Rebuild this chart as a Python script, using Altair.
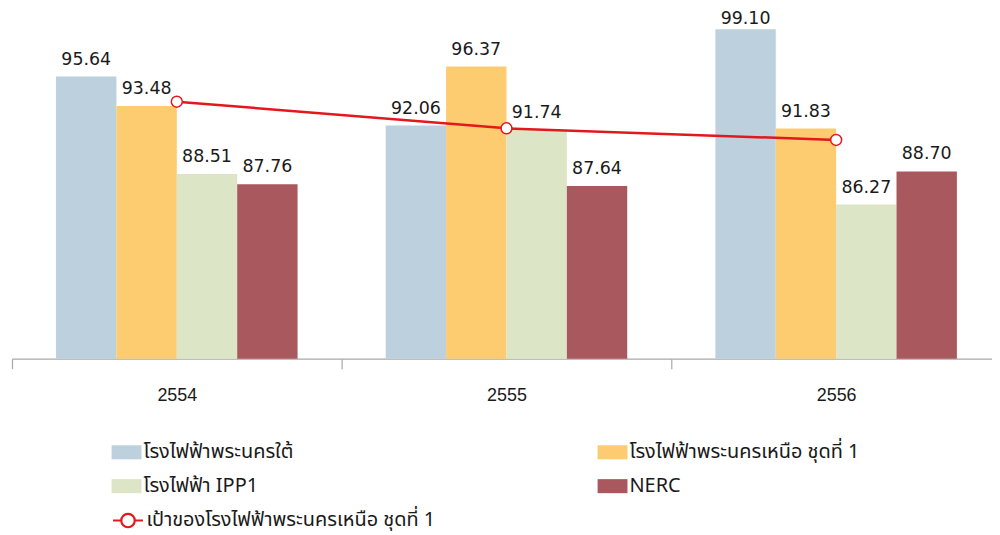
import altair as alt
import pandas as pd

years = ["2554", "2555", "2556"]
series = ["โรงไฟฟ้าพระนครใต้", "โรงไฟฟ้าพระนครเหนือ ชุดที่ 1", "โรงไฟฟ้า IPP1", "NERC"]
values = {
    "โรงไฟฟ้าพระนครใต้": [95.64, 92.06, 99.10],
    "โรงไฟฟ้าพระนครเหนือ ชุดที่ 1": [93.48, 96.37, 91.83],
    "โรงไฟฟ้า IPP1": [88.51, 91.74, 86.27],
    "NERC": [87.76, 87.64, 88.70],
}
target_name = "เป้าของโรงไฟฟ้าพระนครเหนือ ชุดที่ 1"
target = [93.8, 91.85, 91.0]
colors = ["#bcd1dd", "#fdcb70", "#dde5c7", "#a9595d"]

rows = []
for s in series:
    for y, v in zip(years, values[s]):
        rows.append({"year": y, "series": s, "value": v})
bars_df = pd.DataFrame(rows)
line_df = pd.DataFrame({"year": years, "target": target, "name": [target_name] * 3})

FONT = "Liberation Sans, Arial, sans-serif"
NUMFONT = "DejaVu Sans, Verdana, sans-serif"
THAI = "Tahoma, Noto Sans Thai, Loma, Garuda, Noto Sans, sans-serif"

x_enc = alt.X("year:N", title=None, sort=years,
              scale=alt.Scale(paddingInner=0, paddingOuter=0, range=[0, 993]),
              axis=alt.Axis(labelAngle=0, tickBand="extent", tickSize=10, labelPadding=18,
                            labelFontSize=18, labelFont=FONT, labelColor="#1a1a1a",
                            domainColor="#a8a8a8", tickColor="#a8a8a8", tickWidth=1.2,
                            domainWidth=1.2, grid=False))
y_scale = alt.Scale(domain=[75, 100.5], zero=False, nice=False)
xoff = alt.XOffset("series:N", sort=series, scale=alt.Scale(paddingInner=0, paddingOuter=0.73))

rect_path = "M-1,-0.47H1V0.47H-1Z"
line_path = "M-1,0H-0.45M0.45,0H1M-0.45,0A0.45,0.45 0 1,1 0.45,0A0.45,0.45 0 1,1 -0.45,0"

bars = alt.Chart(bars_df).mark_bar().encode(
    x=x_enc,
    xOffset=xoff,
    y=alt.Y("value:Q", scale=y_scale, axis=None),
    y2=alt.datum(75),
    fill=alt.Fill("series:N", sort=series,
                  scale=alt.Scale(domain=series, range=colors),
                  legend=alt.Legend(title=None, orient="none", legendX=100, legendY=429,
                                    direction="horizontal", columns=2, columnPadding=305,
                                    rowPadding=9, labelLimit=500,
                                    symbolType=rect_path, symbolSize=900,
                                    symbolStrokeWidth=0, labelFont=THAI,
                                    labelFontSize=20, labelColor="#1a1a1a",
                                    labelOffset=2, padding=0)),
)

labels = alt.Chart(bars_df).transform_calculate(
    ly="min(datum.value, 98.6)"
).mark_text(baseline="alphabetic", dy=-12, fontSize=17.5, font=NUMFONT, color="#1a1a1a").encode(
    x=alt.X("year:N", sort=years, title=None),
    xOffset=xoff,
    y=alt.Y("ly:Q", scale=y_scale),
    text=alt.Text("value:Q", format=".2f"),
)

line = alt.Chart(line_df).mark_line(strokeWidth=2.5).encode(
    x=alt.X("year:N", sort=years, title=None),
    y=alt.Y("target:Q", scale=y_scale),
    stroke=alt.Stroke("name:N", scale=alt.Scale(domain=[target_name], range=["#e3171c"]),
                      legend=alt.Legend(title=None, orient="none", legendX=100, legendY=496,
                                        labelLimit=500,
                                        symbolType=line_path, symbolSize=900,
                                        symbolStrokeWidth=2.2, symbolFillColor="white",
                                        labelFont=THAI, labelFontSize=20,
                                        labelColor="#1a1a1a", labelOffset=2, padding=0)),
)

pts = alt.Chart(line_df).mark_point(filled=True, fill="white", stroke="#e3171c",
                                    strokeWidth=1.5, size=121, opacity=1,
                                    shape="circle").encode(
    x=alt.X("year:N", sort=years, title=None),
    y=alt.Y("target:Q", scale=y_scale),
)

chart = alt.layer(bars, labels, line, pts).properties(
    width=984, height=350,
    padding={"left": 4, "top": 1, "right": 0, "bottom": 190},
    autosize=alt.AutoSizeParams(type="none"),
).configure_view(stroke=None)

chart.save("out.html", embed_options={"renderer": "svg", "actions": False})
